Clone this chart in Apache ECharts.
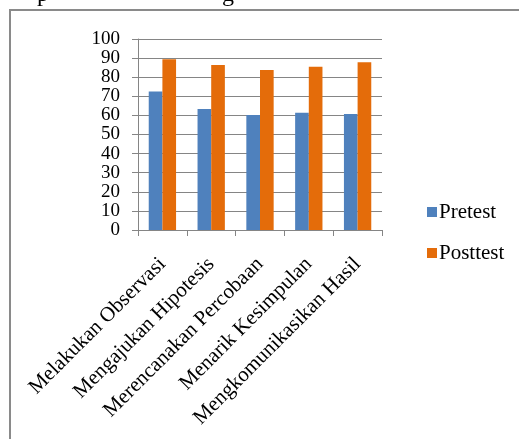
<!DOCTYPE html>
<html>
<head>
<meta charset="utf-8">
<script src="https://cdn.jsdelivr.net/npm/echarts@6/dist/echarts.min.js"></script>
<style>
html,body{margin:0;padding:0;background:#fff;}
#chart{width:519px;height:439px;}
</style>
</head>
<body>
<div id="chart"></div>
<script>
var categories = ['Melakukan Observasi', 'Mengajukan Hipotesis', 'Merencanakan Percobaan', 'Menarik Kesimpulan', 'Mengkomunikasikan Hasil'];
var pretest = [72.5, 63.4, 60.2, 61.4, 60.7];
var posttest = [89.4, 86.4, 83.8, 85.5, 87.8];
var seriesNames = ['Pretest', 'Posttest'];
var yTicks = [0, 10, 20, 30, 40, 50, 60, 70, 80, 90, 100];

var font = "'Liberation Serif', 'Times New Roman', serif";
var chart = echarts.init(document.getElementById('chart'));
chart.setOption({
  animation: false,
  backgroundColor: '#ffffff',
  graphic: [
    { type: 'rect', shape: { x: 10, y: 10, width: 530, height: 450 }, style: { fill: 'none', stroke: '#8a8a8a', lineWidth: 2 } },
    { type: 'text', left: 37, top: -17, style: { text: 'p', font: '24px ' + font, fill: '#000' } },
    { type: 'text', left: 222, top: -17, style: { text: 'g', font: '24px ' + font, fill: '#000' } }
  ],
  legend: {
    orient: 'vertical',
    left: 422,
    top: 196,
    itemWidth: 10,
    itemHeight: 10,
    itemGap: 19,
    icon: 'rect',
    data: seriesNames,
    textStyle: { fontFamily: font, fontSize: 21, color: '#000', lineHeight: 22, padding: [0, 0, 0, -3] }
  },
  grid: { left: 138, right: 137, top: 39, bottom: 209, containLabel: false },
  xAxis: {
    type: 'category',
    data: categories,
    axisLine: { lineStyle: { color: '#858585', width: 1 } },
    axisTick: { show: true, alignWithLabel: false, length: 6, lineStyle: { color: '#858585' } },
    axisLabel: { rotate: 45, interval: 0, margin: 31, fontFamily: font, fontSize: 21, color: '#000' }
  },
  yAxis: {
    type: 'value',
    min: yTicks[0],
    max: yTicks[yTicks.length - 1],
    interval: 10,
    axisLine: { show: true, lineStyle: { color: '#858585', width: 1 } },
    axisTick: { show: true, length: 6, lineStyle: { color: '#858585' } },
    splitLine: { show: true, lineStyle: { color: '#858585', width: 1.2 } },
    axisLabel: { margin: 18, fontFamily: font, fontSize: 19, color: '#000' }
  },
  series: [
    { name: seriesNames[0], type: 'bar', data: pretest, barGap: '0%', barCategoryGap: '44%', itemStyle: { color: '#4F81BD' } },
    { name: seriesNames[1], type: 'bar', data: posttest, barGap: '0%', barCategoryGap: '44%', itemStyle: { color: '#E46C0A' } }
  ]
});
</script>
</body>
</html>
